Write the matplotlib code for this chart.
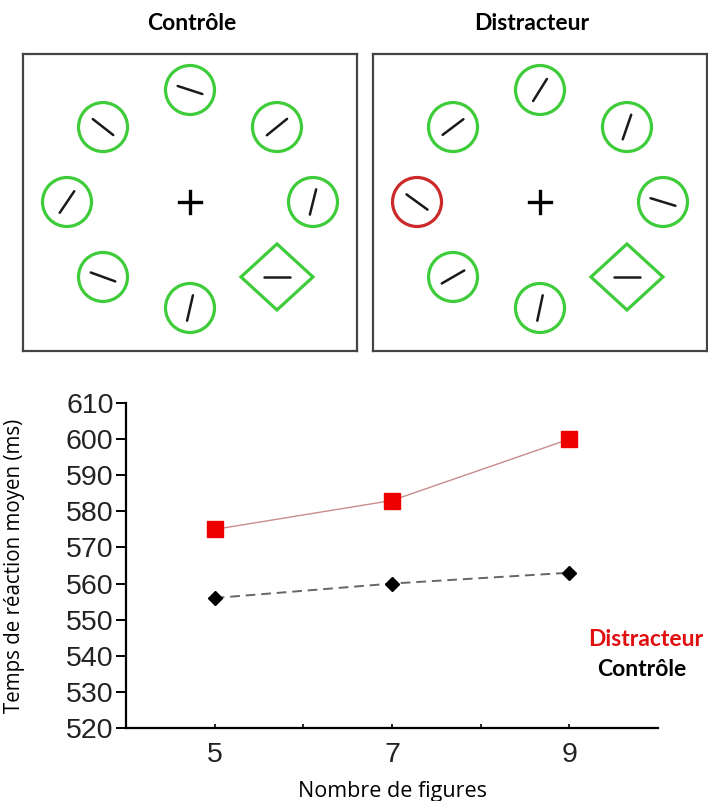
import numpy as np
import matplotlib.pyplot as plt
from matplotlib.patches import Circle, Polygon

# ---- data ----
set_sizes = [5, 7, 9]
rt_distracteur = [575, 583, 600]
rt_controle = [556, 560, 563]
y_ticks = list(range(520, 611, 10))
x_ticks = [5, 6, 7, 8, 9]
x_ticklabels = ["5", "", "7", "", "9"]

# stimulus displays: ring slots go top, upper-right, right, lower-right,
# bottom, lower-left, left, upper-left
slot_angles = [90, 45, 0, -45, -90, -135, 180, 135]
ctrl_orient = [-18, 39, 76, 0, 77, -20, 56, -38]
ctrl_shape = ["o", "o", "o", "D", "o", "o", "o", "o"]
ctrl_color = ["g", "g", "g", "g", "g", "g", "g", "g"]
dist_orient = [58, 71, -17, 0, 78, 30, -36, 37]
dist_shape = ["o", "o", "o", "D", "o", "o", "o", "o"]
dist_color = ["g", "g", "g", "g", "g", "g", "r", "g"]

GREEN = "#3fcc3a"
RED_RING = "#cc2a2a"

W, H = 708, 801
fig = plt.figure(figsize=(W / 100, H / 100), dpi=100)


def px_axes(x0, y0, w, h):
    return fig.add_axes([x0 / W, 1 - (y0 + h) / H, w / W, h / H])


def draw_display(ax, orients, shapes, colors):
    bw, bh = 334, 297
    ax.set_xlim(0, bw)
    ax.set_ylim(bh, 0)
    ax.set_xticks([])
    ax.set_yticks([])
    for s in ax.spines.values():
        s.set_color("#444444")
        s.set_linewidth(1.6)
    cx, cy = 167, 148
    rx, ry = 123, 106
    for a, ori, shp, col in zip(slot_angles, orients, shapes, colors):
        t = np.deg2rad(a)
        x = cx + rx * np.cos(t)
        y = cy - ry * np.sin(t) - (6 if a == 90 else 0)
        ec = GREEN if col == "g" else RED_RING
        if shp == "o":
            ax.add_patch(Circle((x, y), 24.5, fill=False, ec=ec, lw=2.3))
        else:
            ax.add_patch(Polygon([(x - 36, y), (x, y - 33), (x + 36, y), (x, y + 33)],
                                 closed=True, fill=False, ec=ec, lw=2.3))
        o = np.deg2rad(ori)
        hl = 13
        ax.plot([x - hl * np.cos(o), x + hl * np.cos(o)],
                [y + hl * np.sin(o), y - hl * np.sin(o)],
                color="#1a1a1a", lw=1.8, solid_capstyle="round")
    ax.plot([cx - 11, cx + 11], [cy, cy], color="black", lw=2.4)
    ax.plot([cx, cx], [cy - 11, cy + 11], color="black", lw=2.4)


ax1 = px_axes(23, 54, 334, 297)
draw_display(ax1, ctrl_orient, ctrl_shape, ctrl_color)
ax2 = px_axes(373, 54, 334, 297)
draw_display(ax2, dist_orient, dist_shape, dist_color)

bold_font = dict(family="Lato", fontsize=16.5, fontweight="bold")
fig.text(192 / W, 1 - 24 / H, "Contrôle", ha="center", va="center", **bold_font)
fig.text(532 / W, 1 - 24 / H, "Distracteur", ha="center", va="center", **bold_font)

# ---- reaction time plot ----
ax = px_axes(126, 403, 532, 325)
ax.plot(set_sizes, rt_distracteur, color="#c98c8c", lw=1.0, marker="s",
        markersize=11, markerfacecolor="#ee0000", markeredgecolor="#ee0000")
ax.plot(set_sizes, rt_controle, color="#666666", lw=1.4, ls=(0, (5, 3)), marker="D",
        markersize=7, markerfacecolor="black", markeredgecolor="black")
ax.set_xlim(4, 10)
ax.set_ylim(520, 610)
ax.set_yticks(y_ticks)
ax.set_xticks(x_ticks)
ax.set_xticklabels(x_ticklabels)
for s in ["top", "right"]:
    ax.spines[s].set_visible(False)
for s in ["left", "bottom"]:
    ax.spines[s].set_linewidth(1.6)
ax.tick_params(axis="y", direction="out", length=7, width=1.4, pad=2,
               labelsize=20.5, labelfontfamily="Liberation Sans", labelcolor="#222222")
ax.tick_params(axis="x", direction="in", length=3, width=1.2, pad=10,
               labelsize=20.5, labelfontfamily="Liberation Sans", labelcolor="#222222")
ax.set_ylabel("Temps de réaction moyen (ms)", family="Open Sans", fontsize=14.8)
ax.yaxis.set_label_coords(-101 / 532, 0.5)
ax.set_xlabel("Nombre de figures", family="Open Sans", fontsize=15.5, va="baseline")
ax.xaxis.set_label_coords(0.5, -69 / 325)

fig.text(588 / W, 1 - 640 / H, "Distracteur", color="#e01010", ha="left", va="center",
         **bold_font)
fig.text(597 / W, 1 - 670 / H, "Contrôle", color="black", ha="left", va="center",
         **bold_font)

fig.savefig("out.png", dpi=100)
